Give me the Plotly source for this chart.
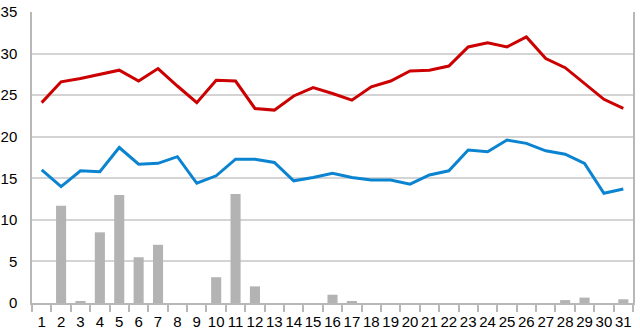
import plotly.graph_objects as go

days = [str(i) for i in range(1, 32)]
max_temp = [24.1, 26.6, 27.0, 27.5, 28.0, 26.7, 28.2, 26.1, 24.1, 26.8, 26.7, 23.4, 23.2, 24.9, 25.9,
            25.2, 24.4, 26.0, 26.7, 27.9, 28.0, 28.5, 30.8, 31.3, 30.8, 32.0, 29.4, 28.3, 26.4, 24.5, 23.4]
min_temp = [16.0, 14.0, 15.9, 15.8, 18.7, 16.7, 16.8, 17.6, 14.4, 15.3, 17.3, 17.3, 16.9, 14.7, 15.1,
            15.6, 15.1, 14.8, 14.8, 14.3, 15.4, 15.9, 18.4, 18.2, 19.6, 19.2, 18.3, 17.9, 16.8, 13.2, 13.7]
rain = [0, 11.7, 0.2, 8.5, 13.0, 5.5, 7.0, 0, 0, 3.1, 13.1, 2.0, 0, 0, 0,
        1.0, 0.2, 0, 0, 0, 0, 0, 0, 0, 0, 0, 0, 0.35, 0.65, 0, 0.45]

fig = go.Figure()
fig.add_trace(go.Bar(x=days, y=rain, marker=dict(color="#b3b3b3", line=dict(width=0)), width=0.52))
fig.add_trace(go.Scatter(x=days, y=max_temp, mode="lines", line=dict(color="#cc0000", width=3)))
fig.add_trace(go.Scatter(x=days, y=min_temp, mode="lines", line=dict(color="#0a84d0", width=3)))

fig.update_layout(
    width=640, height=335,
    margin=dict(l=32, r=7, t=12, b=32),
    paper_bgcolor="white", plot_bgcolor="white",
    showlegend=False,
    font=dict(family="Liberation Sans, Arial", size=14, color="black"),
)
fig.update_xaxes(type="category", showgrid=False, showline=True, linecolor="#b8b8b8", linewidth=1.5,
                 ticks="outside", tickson="boundaries", ticklen=7, tickcolor="#b8b8b8", tickwidth=1.5,
                 tickangle=0, ticklabelstandoff=4, tickfont=dict(size=15), mirror=False, automargin=False)
fig.update_yaxes(range=[0, 35], dtick=5, showgrid=True, gridcolor="#d4d4d4", gridwidth=1.5,
                 showline=True, linecolor="#b8b8b8", linewidth=1.5, mirror=True, automargin=False,
                 ticks="", ticklabelstandoff=10, zeroline=False, tickfont=dict(size=15))

fig.write_html("out.html")
